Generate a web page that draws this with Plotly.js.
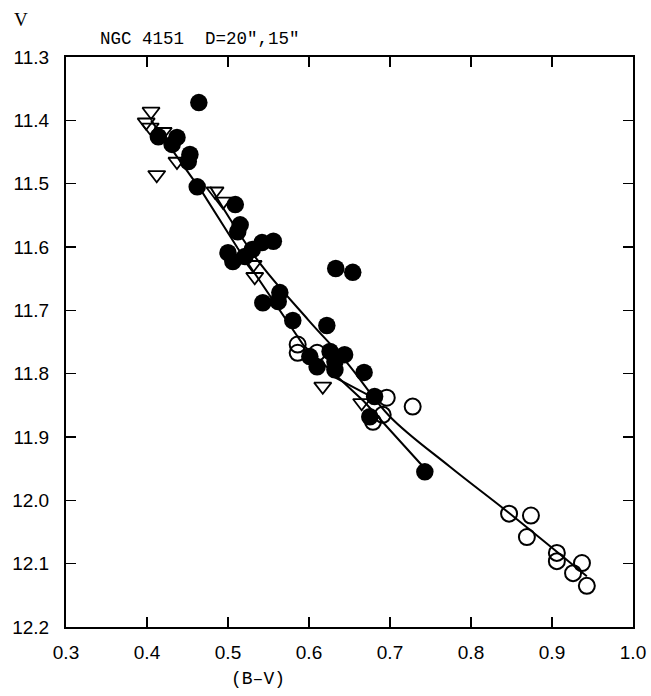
<!DOCTYPE html>
<html>
<head>
<meta charset="utf-8">
<script src="https://cdn.plot.ly/plotly-3.0.1.min.js"></script>
<style>html,body{margin:0;padding:0;background:#fff;}#chart{width:651px;height:696px;}</style>
</head>
<body>
<div id="chart"></div>
<script>
// Filled circles
const filledX = [0.464,0.414,0.437,0.431,0.453,0.451,0.462,0.509,0.515,0.512,0.542,0.556,0.500,0.506,0.521,0.530,0.564,0.543,0.562,0.633,0.654,0.580,0.622,0.601,0.610,0.626,0.632,0.644,0.632,0.668,0.681,0.675,0.743];
const filledY = [11.372,11.426,11.427,11.438,11.454,11.465,11.505,11.533,11.565,11.576,11.593,11.591,11.609,11.623,11.615,11.604,11.672,11.688,11.686,11.634,11.640,11.716,11.724,11.773,11.789,11.765,11.781,11.770,11.794,11.798,11.836,11.868,11.955];
// Open circles
const openX = [0.586,0.586,0.610,0.696,0.728,0.679,0.691,0.847,0.874,0.869,0.906,0.906,0.937,0.926,0.943];
const openY = [11.754,11.767,11.767,11.838,11.852,11.876,11.865,12.021,12.024,12.058,12.083,12.096,12.099,12.115,12.135];
// Open triangles
const triX = [0.405,0.399,0.404,0.420,0.437,0.412,0.484,0.494,0.531,0.533,0.617,0.665];
const triY = [11.386,11.403,11.411,11.418,11.465,11.486,11.512,11.528,11.628,11.647,11.820,11.846];
// Curves
const lineAX = [0.405,0.468,0.512,0.593,0.668,0.741];
const lineAY = [11.40,11.513,11.602,11.755,11.844,11.947];
const lineBX = [0.478,0.536,0.599,0.647,0.700,0.774,0.847,0.943];
const lineBY = [11.505,11.620,11.715,11.783,11.868,11.947,12.020,12.120];
const lineCX = [0.632,0.675];
const lineCY = [11.806,11.835];
const xTicks = [0.3,0.4,0.5,0.6,0.7,0.8,0.9,1.0];
const xTickText = ["0.3","0.4","0.5","0.6","0.7","0.8","0.9","1.0"];
const yTicks = [11.3,11.4,11.5,11.6,11.7,11.8,11.9,12.0,12.1,12.2];
const yTickText = ["11.3","11.4","11.5","11.6","11.7","11.8","11.9","12.0","12.1","12.2"];

const lineStyle = {color:'black', width:2};
const traces = [
  {x:lineAX, y:lineAY, mode:'lines', line:lineStyle, hoverinfo:'skip'},
  {x:lineBX, y:lineBY, mode:'lines', line:Object.assign({shape:'spline'}, lineStyle), hoverinfo:'skip'},
  {x:lineCX, y:lineCY, mode:'lines', line:lineStyle, hoverinfo:'skip'},
  {x:triX, y:triY, mode:'markers', marker:{symbol:'triangle-down-open', size:15, color:'black', line:{width:1.8, color:'black'}}},
  {x:openX, y:openY, mode:'markers', marker:{symbol:'circle-open', size:16, color:'black', line:{width:2, color:'black'}}},
  {x:filledX, y:filledY, mode:'markers', marker:{symbol:'circle', size:17.5, color:'black'}}
];

const axisCommon = {
  showgrid:false, zeroline:false, showline:true, linecolor:'black', linewidth:2,
  mirror:'ticks', ticks:'inside', ticklen:10, tickwidth:1.5, tickcolor:'black',
  tickfont:{family:'Liberation Sans, Arial, sans-serif', size:19, color:'black'}
};

const layout = {
  width:651, height:696,
  margin:{l:66, r:18, t:57, b:69},
  paper_bgcolor:'white', plot_bgcolor:'white',
  showlegend:false,
  xaxis:Object.assign({}, axisCommon, {range:[0.3,1.0], tickvals:xTicks, ticktext:xTickText, ticklabelstandoff:7}),
  yaxis:Object.assign({}, axisCommon, {range:[12.2,11.3], tickvals:yTicks, ticktext:yTickText, ticklabelstandoff:11}),
  annotations:[
    {text:'NGC 4151  D=20",15"', xref:'paper', yref:'paper', x:0.056, y:1.0, xanchor:'left', yanchor:'bottom', yshift:6, showarrow:false,
     font:{family:'Liberation Mono, Courier New, monospace', size:17.5, color:'black'}},
    {text:'V', xref:'paper', yref:'paper', x:-0.095, y:1.0, xanchor:'left', yanchor:'bottom', yshift:25, showarrow:false,
     font:{family:'Liberation Serif, Times New Roman, serif', size:19, color:'black'}},
    {text:'(B\u2013V)', xref:'paper', yref:'paper', x:0.338, y:0, xanchor:'center', yanchor:'top', yshift:-40, showarrow:false,
     font:{family:'Liberation Mono, Courier New, monospace', size:18, color:'black'}}
  ]
};

Plotly.newPlot('chart', traces, layout, {displayModeBar:false, staticPlot:true});
</script>
</body>
</html>
